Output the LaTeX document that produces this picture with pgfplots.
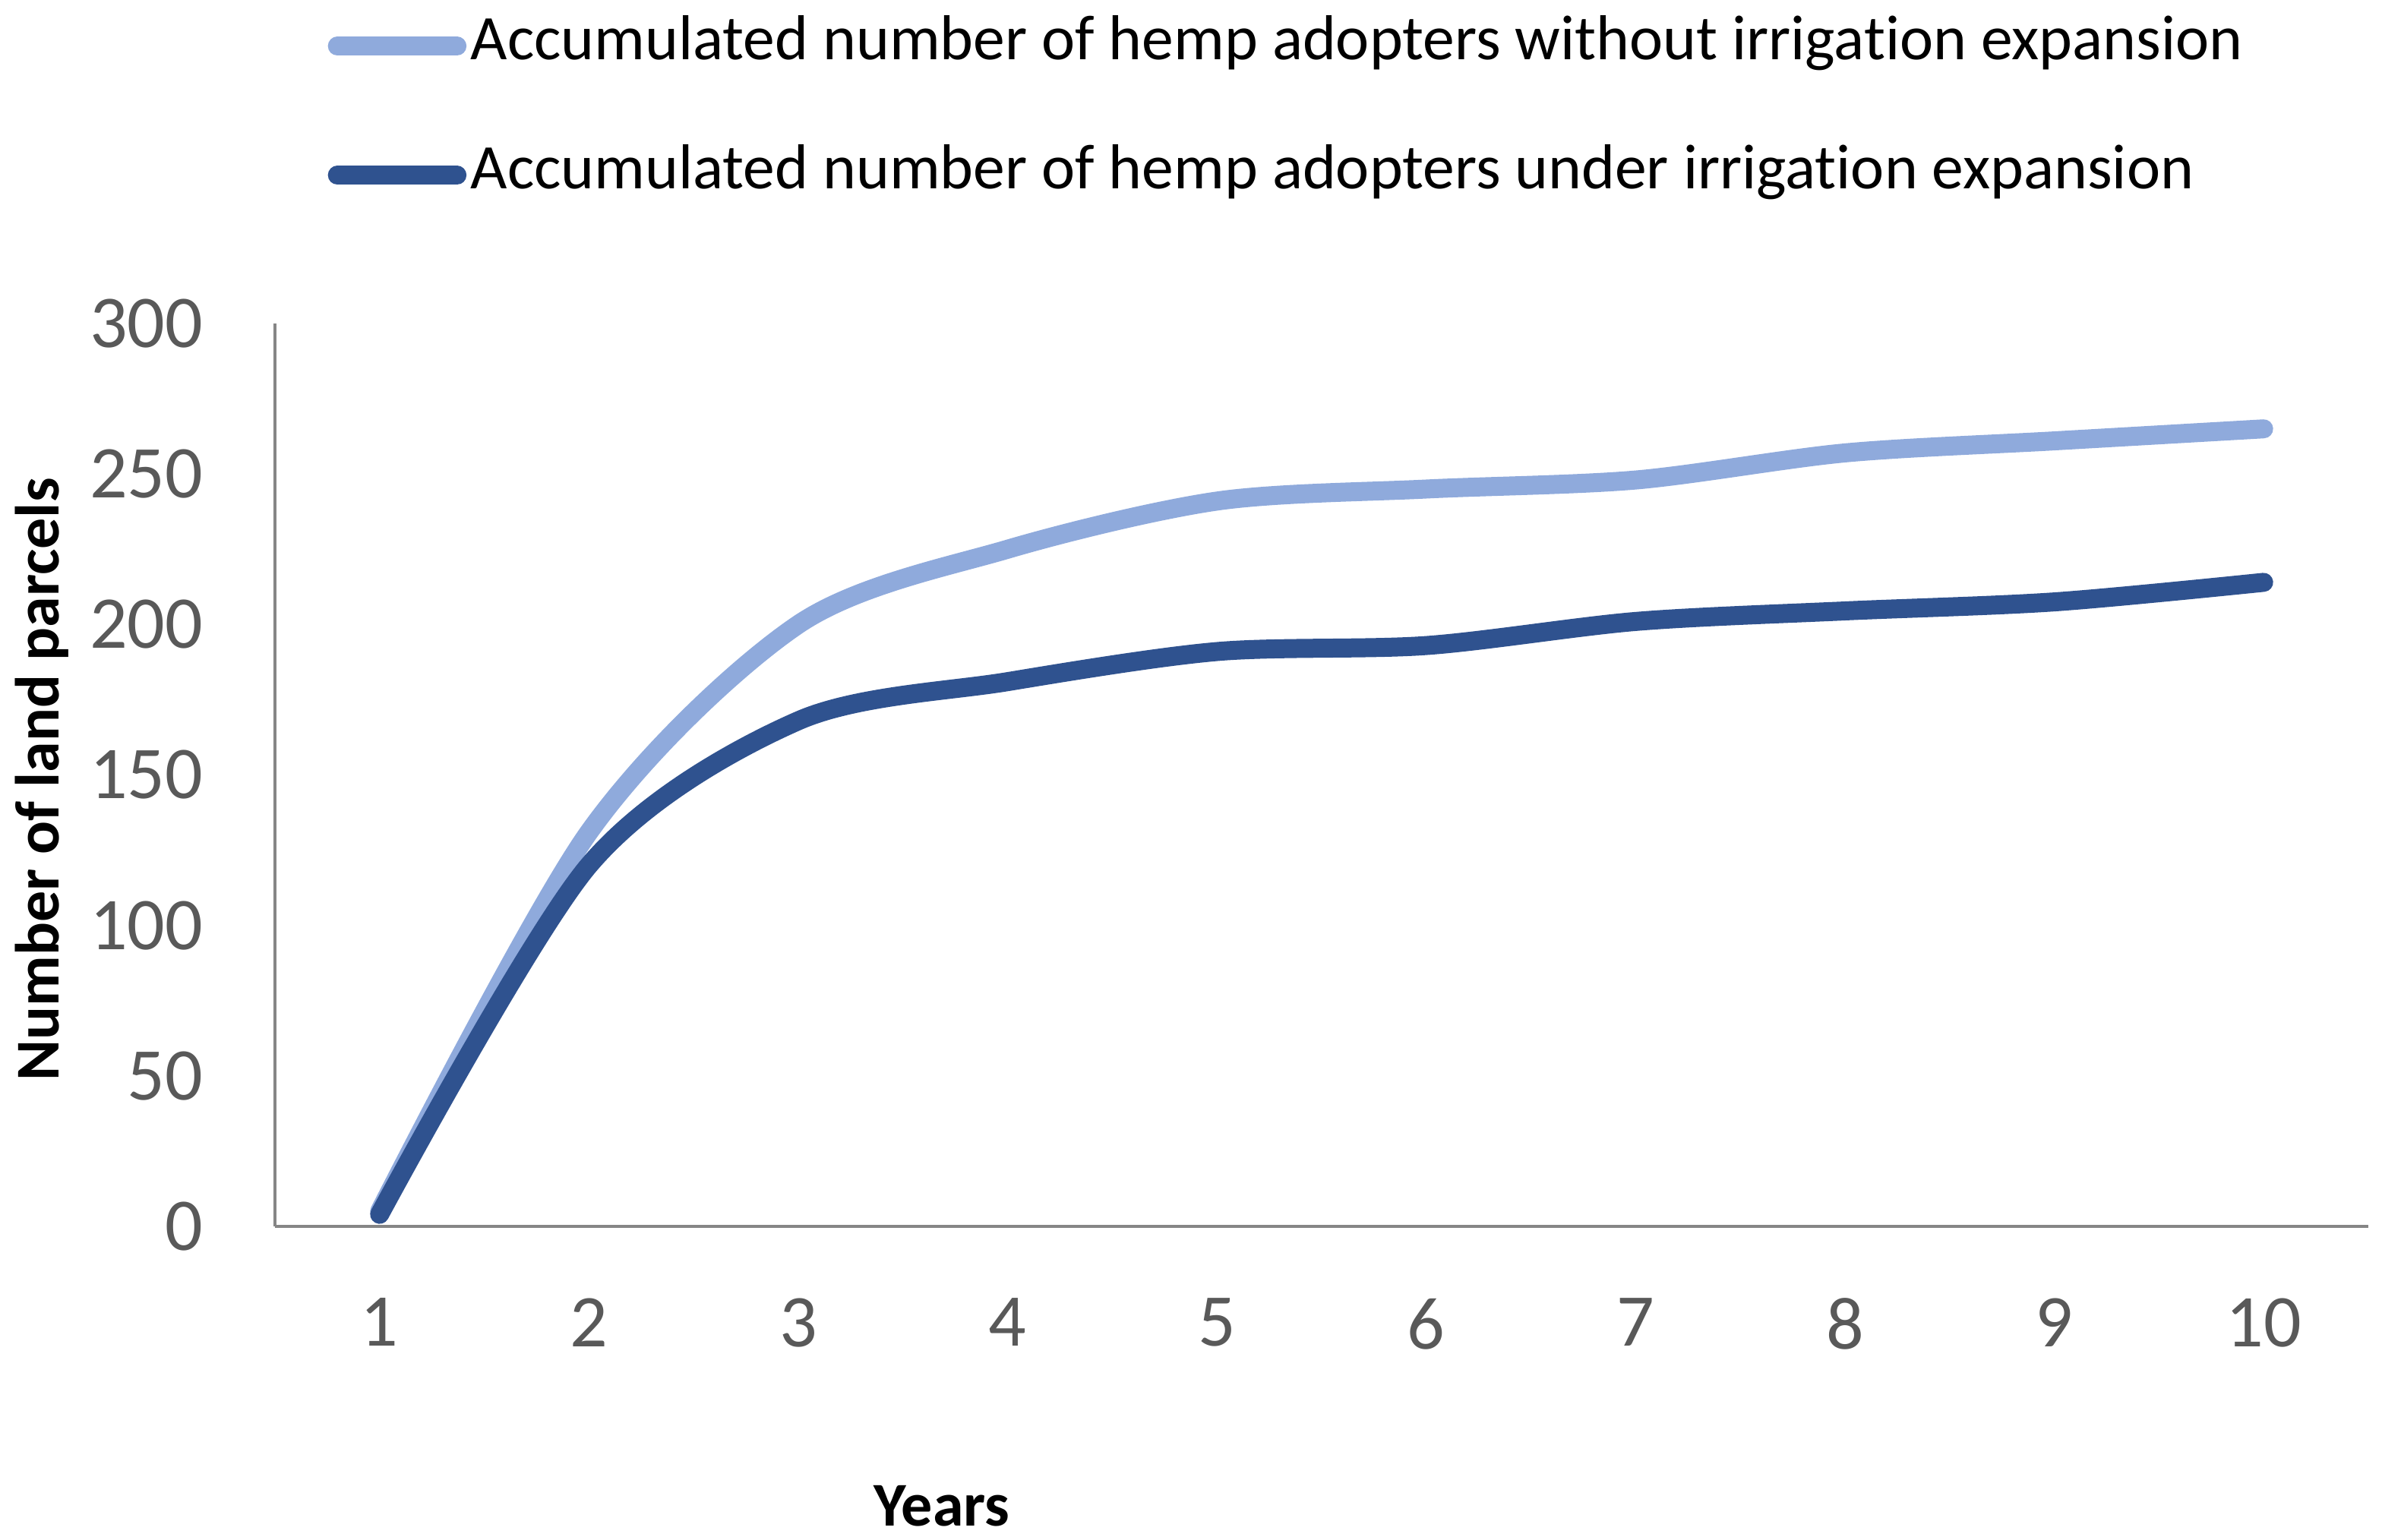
\documentclass[border=0pt]{standalone}
\usepackage{pgfplots}
\pgfplotsset{compat=1.18}
\usepackage{fontspec}
\setmainfont{Carlito}[Ligatures=NoCommon]
\definecolor{lightline}{HTML}{8FAADC}
\definecolor{darkline}{HTML}{2F528F}
\definecolor{ticktext}{HTML}{595959}
\definecolor{axisgray}{HTML}{868686}

\begin{document}
\begin{tikzpicture}
  \useasboundingbox (-90.5pt,-103pt) rectangle (693.5pt,403.75pt);
  \begin{axis}[
    scale only axis,
    width=689pt, height=297.25pt,
    xmin=0.5, xmax=10.5,
    ymin=0, ymax=300,
    axis x line=bottom, axis y line=left,
    axis line style={-, axisgray, line width=0.85pt},
    xtick={1,...,10}, ytick={0,50,...,300},
    major tick length=0pt,
    /pgf/number format/assume math mode=true,
    tick label style={font=\fontsize{24.5}{28}\selectfont, text=ticktext},
    xticklabel style={anchor=north, inner sep=0pt, yshift=-23.5pt},
    yticklabel style={anchor=east, inner sep=0pt, xshift=-23.5pt},
    xlabel={\textbf{Years}},
    ylabel={\textbf{Number of land parcels}},
    label style={font=\fontsize{20.5}{24}\selectfont, inner sep=0pt},
    xlabel style={at={(axis description cs:0.3186,-0.3100)}, anchor=center},
    ylabel style={at={(axis description cs:-0.1114,0.495)}, anchor=center},
    legend style={
      at={(axis description cs:0.0250,1.3398)}, anchor=north west,
      draw=none, fill=none, inner sep=0pt,
      row sep=23.5pt,
      font=\fontsize{20.9}{24}\selectfont,
      nodes={inner sep=0pt, text height=14pt, text depth=5pt},
    },
    legend cell align=left,
    legend image code/.code={
      \path[draw=none, fill=none] (0pt,-3.125pt) rectangle (47pt,3.125pt);
      \draw[#1, line cap=round] (3.125pt,0pt) -- (42.5pt,0pt);
    },
    every axis plot/.append style={line width=6.25pt, line cap=round, smooth, tension=0.5},
  ]
  \addplot[lightline] coordinates {
    (1,5) (2,131) (3,200) (4,225) (5,241) (6,245) (7,248) (8,257) (9,261) (10,265)
  };
  \addlegendentry{Accumulated number of hemp adopters without irrigation expansion}
  \addplot[darkline] coordinates {
    (1,4) (2,120) (3,168) (4,181) (5,191) (6,193) (7,201) (8,204.5) (9,207.5) (10,214)
  };
  \addlegendentry{Accumulated number of hemp adopters under irrigation expansion}
  \end{axis}
\end{tikzpicture}
\end{document}
